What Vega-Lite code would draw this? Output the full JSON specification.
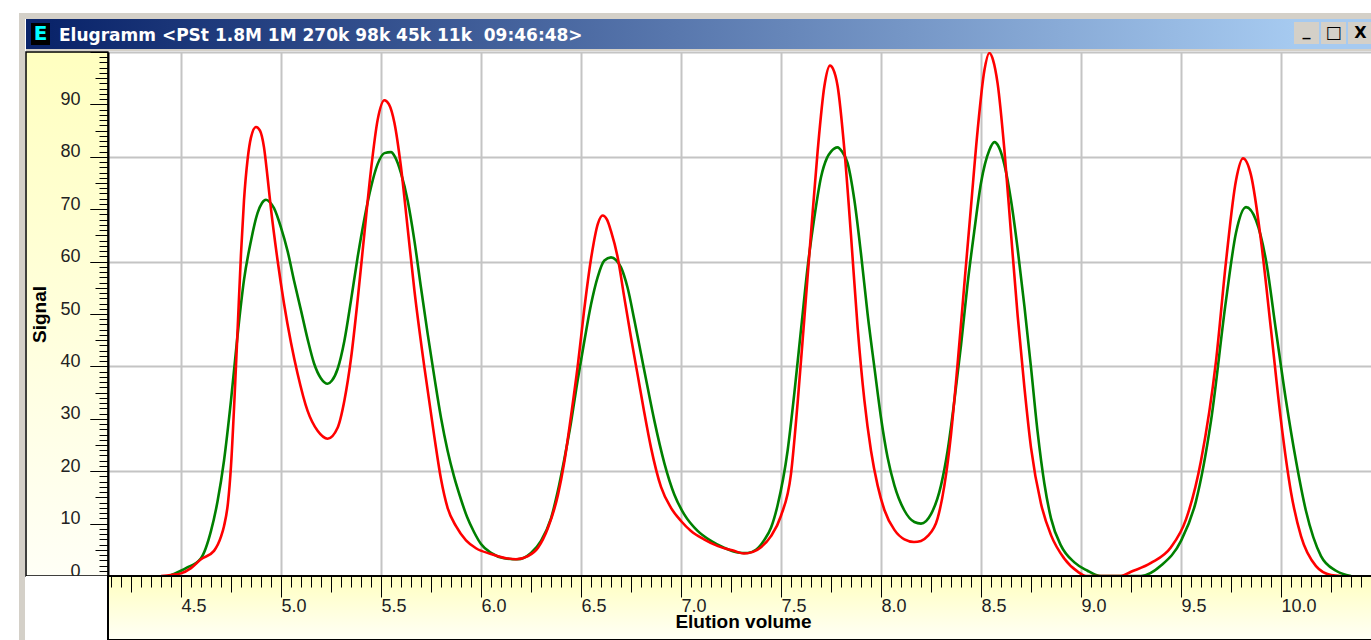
{
  "$schema": "https://vega.github.io/schema/vega-lite/v6.json",
  "background": "#ffffff",
  "padding": {"left": 19, "top": 13, "right": 0, "bottom": 0},
  "autosize": {"type": "pad"},
  "config": {
    "view": {"stroke": null},
    "concat": {"spacing": 0},
    "axis": {"labelFont": "Liberation Sans", "titleFont": "Liberation Sans"}
  },
  "datasets": {
    "curves": [
      {"series":"Detektor B","v":4.44,"s":0},{"series":"Detektor B","v":4.465,"s":0.4},{"series":"Detektor B","v":4.525,"s":1.5},{"series":"Detektor B","v":4.6,"s":3.4},{"series":"Detektor B","v":4.65,"s":8.6},{"series":"Detektor B","v":4.683,"s":14.3},{"series":"Detektor B","v":4.715,"s":22},{"series":"Detektor B","v":4.75,"s":33.5},{"series":"Detektor B","v":4.783,"s":46},{"series":"Detektor B","v":4.815,"s":56.5},{"series":"Detektor B","v":4.85,"s":64},{"series":"Detektor B","v":4.883,"s":69.3},{"series":"Detektor B","v":4.905,"s":71.2},{"series":"Detektor B","v":4.925,"s":71.8},{"series":"Detektor B","v":4.945,"s":71.3},{"series":"Detektor B","v":4.965,"s":70.2},{"series":"Detektor B","v":5.0,"s":66.5},{"series":"Detektor B","v":5.033,"s":62},{"series":"Detektor B","v":5.065,"s":56.4},{"series":"Detektor B","v":5.1,"s":50.7},{"series":"Detektor B","v":5.133,"s":45.2},{"series":"Detektor B","v":5.165,"s":40.6},{"series":"Detektor B","v":5.2,"s":37.7},{"series":"Detektor B","v":5.233,"s":36.7},{"series":"Detektor B","v":5.255,"s":37.3},{"series":"Detektor B","v":5.283,"s":39.5},{"series":"Detektor B","v":5.317,"s":44.9},{"series":"Detektor B","v":5.35,"s":52.6},{"series":"Detektor B","v":5.383,"s":60.8},{"series":"Detektor B","v":5.417,"s":68.2},{"series":"Detektor B","v":5.45,"s":74.2},{"series":"Detektor B","v":5.483,"s":78.6},{"series":"Detektor B","v":5.517,"s":80.7},{"series":"Detektor B","v":5.55,"s":80.9},{"series":"Detektor B","v":5.57,"s":80},{"series":"Detektor B","v":5.6,"s":76.9},{"series":"Detektor B","v":5.633,"s":71.7},{"series":"Detektor B","v":5.667,"s":64},{"series":"Detektor B","v":5.7,"s":55},{"series":"Detektor B","v":5.733,"s":46.3},{"series":"Detektor B","v":5.767,"s":37.9},{"series":"Detektor B","v":5.8,"s":30.2},{"series":"Detektor B","v":5.833,"s":23.9},{"series":"Detektor B","v":5.865,"s":19},{"series":"Detektor B","v":5.9,"s":14.6},{"series":"Detektor B","v":5.93,"s":11.3},{"series":"Detektor B","v":5.965,"s":8.4},{"series":"Detektor B","v":6.0,"s":6.1},{"series":"Detektor B","v":6.05,"s":4.4},{"series":"Detektor B","v":6.115,"s":3.4},{"series":"Detektor B","v":6.183,"s":3.2},{"series":"Detektor B","v":6.25,"s":4.4},{"series":"Detektor B","v":6.3,"s":6.7},{"series":"Detektor B","v":6.35,"s":11},{"series":"Detektor B","v":6.383,"s":16},{"series":"Detektor B","v":6.415,"s":22},{"series":"Detektor B","v":6.45,"s":29.3},{"series":"Detektor B","v":6.483,"s":37.3},{"series":"Detektor B","v":6.517,"s":44.9},{"series":"Detektor B","v":6.55,"s":51.8},{"series":"Detektor B","v":6.583,"s":57},{"series":"Detektor B","v":6.617,"s":60.2},{"series":"Detektor B","v":6.65,"s":60.8},{"series":"Detektor B","v":6.675,"s":60.3},{"series":"Detektor B","v":6.7,"s":58.9},{"series":"Detektor B","v":6.733,"s":55},{"series":"Detektor B","v":6.767,"s":48.8},{"series":"Detektor B","v":6.8,"s":42.4},{"series":"Detektor B","v":6.833,"s":36},{"series":"Detektor B","v":6.867,"s":29.6},{"series":"Detektor B","v":6.917,"s":21.5},{"series":"Detektor B","v":6.967,"s":15.5},{"series":"Detektor B","v":7.017,"s":11.7},{"series":"Detektor B","v":7.083,"s":8.6},{"series":"Detektor B","v":7.15,"s":6.7},{"series":"Detektor B","v":7.215,"s":5.4},{"series":"Detektor B","v":7.283,"s":4.5},{"series":"Detektor B","v":7.333,"s":4.4},{"series":"Detektor B","v":7.375,"s":5},{"series":"Detektor B","v":7.415,"s":6.8},{"series":"Detektor B","v":7.45,"s":9.2},{"series":"Detektor B","v":7.483,"s":13.5},{"series":"Detektor B","v":7.533,"s":23.9},{"series":"Detektor B","v":7.567,"s":35},{"series":"Detektor B","v":7.6,"s":47},{"series":"Detektor B","v":7.633,"s":58.9},{"series":"Detektor B","v":7.667,"s":68.5},{"series":"Detektor B","v":7.7,"s":76.1},{"series":"Detektor B","v":7.73,"s":79.8},{"series":"Detektor B","v":7.75,"s":81},{"series":"Detektor B","v":7.783,"s":81.8},{"series":"Detektor B","v":7.805,"s":81},{"series":"Detektor B","v":7.833,"s":78.8},{"series":"Detektor B","v":7.867,"s":71.7},{"series":"Detektor B","v":7.9,"s":61.5},{"series":"Detektor B","v":7.933,"s":50},{"series":"Detektor B","v":7.967,"s":39.8},{"series":"Detektor B","v":8.0,"s":30.2},{"series":"Detektor B","v":8.033,"s":22.6},{"series":"Detektor B","v":8.067,"s":17.3},{"series":"Detektor B","v":8.117,"s":12.5},{"series":"Detektor B","v":8.167,"s":10.3},{"series":"Detektor B","v":8.2,"s":10},{"series":"Detektor B","v":8.25,"s":11.8},{"series":"Detektor B","v":8.3,"s":17.3},{"series":"Detektor B","v":8.333,"s":23.9},{"series":"Detektor B","v":8.367,"s":33.5},{"series":"Detektor B","v":8.4,"s":44},{"series":"Detektor B","v":8.433,"s":55.8},{"series":"Detektor B","v":8.467,"s":66},{"series":"Detektor B","v":8.5,"s":75},{"series":"Detektor B","v":8.542,"s":81.3},{"series":"Detektor B","v":8.567,"s":82.8},{"series":"Detektor B","v":8.59,"s":81.8},{"series":"Detektor B","v":8.617,"s":78.5},{"series":"Detektor B","v":8.65,"s":71.7},{"series":"Detektor B","v":8.683,"s":62.5},{"series":"Detektor B","v":8.717,"s":51.5},{"series":"Detektor B","v":8.75,"s":39.8},{"series":"Detektor B","v":8.783,"s":27.5},{"series":"Detektor B","v":8.817,"s":17.6},{"series":"Detektor B","v":8.85,"s":11},{"series":"Detektor B","v":8.9,"s":5.8},{"series":"Detektor B","v":8.967,"s":2.6},{"series":"Detektor B","v":9.033,"s":1},{"series":"Detektor B","v":9.075,"s":0.2},{"series":"Detektor B","v":9.1,"s":0},{"series":"Detektor B","v":9.3,"s":0},{"series":"Detektor B","v":9.4,"s":2},{"series":"Detektor B","v":9.5,"s":6.7},{"series":"Detektor B","v":9.575,"s":14.3},{"series":"Detektor B","v":9.65,"s":29.6},{"series":"Detektor B","v":9.725,"s":52.6},{"series":"Detektor B","v":9.775,"s":65.5},{"series":"Detektor B","v":9.825,"s":70.4},{"series":"Detektor B","v":9.875,"s":67.9},{"series":"Detektor B","v":9.925,"s":60.2},{"series":"Detektor B","v":9.975,"s":46.8},{"series":"Detektor B","v":10.025,"s":33.5},{"series":"Detektor B","v":10.075,"s":22},{"series":"Detektor B","v":10.125,"s":12.4},{"series":"Detektor B","v":10.2,"s":3.8},{"series":"Detektor B","v":10.275,"s":1},{"series":"Detektor B","v":10.35,"s":0},
      {"series":"Detektor A","v":4.4,"s":0},{"series":"Detektor A","v":4.45,"s":0.2},{"series":"Detektor A","v":4.5,"s":0.5},{"series":"Detektor A","v":4.55,"s":1.5},{"series":"Detektor A","v":4.6,"s":3.2},{"series":"Detektor A","v":4.665,"s":4.8},{"series":"Detektor A","v":4.7,"s":7.5},{"series":"Detektor A","v":4.715,"s":9.5},{"series":"Detektor A","v":4.735,"s":14},{"series":"Detektor A","v":4.75,"s":21},{"series":"Detektor A","v":4.767,"s":33.5},{"series":"Detektor A","v":4.783,"s":47},{"series":"Detektor A","v":4.8,"s":61.5},{"series":"Detektor A","v":4.815,"s":71.7},{"series":"Detektor A","v":4.833,"s":79.5},{"series":"Detektor A","v":4.85,"s":83.7},{"series":"Detektor A","v":4.875,"s":85.7},{"series":"Detektor A","v":4.895,"s":85},{"series":"Detektor A","v":4.915,"s":81.8},{"series":"Detektor A","v":4.933,"s":76},{"series":"Detektor A","v":4.95,"s":70},{"series":"Detektor A","v":4.983,"s":60.2},{"series":"Detektor A","v":5.015,"s":52},{"series":"Detektor A","v":5.05,"s":44.5},{"series":"Detektor A","v":5.083,"s":38.6},{"series":"Detektor A","v":5.133,"s":31.5},{"series":"Detektor A","v":5.183,"s":27.7},{"series":"Detektor A","v":5.233,"s":26.2},{"series":"Detektor A","v":5.283,"s":28.3},{"series":"Detektor A","v":5.317,"s":33.5},{"series":"Detektor A","v":5.35,"s":41.5},{"series":"Detektor A","v":5.383,"s":52.6},{"series":"Detektor A","v":5.417,"s":65.4},{"series":"Detektor A","v":5.45,"s":77.5},{"series":"Detektor A","v":5.483,"s":87},{"series":"Detektor A","v":5.517,"s":90.8},{"series":"Detektor A","v":5.54,"s":90},{"series":"Detektor A","v":5.567,"s":86.5},{"series":"Detektor A","v":5.6,"s":78},{"series":"Detektor A","v":5.633,"s":66.5},{"series":"Detektor A","v":5.667,"s":54.5},{"series":"Detektor A","v":5.717,"s":39.8},{"series":"Detektor A","v":5.767,"s":26.5},{"series":"Detektor A","v":5.8,"s":18.5},{"series":"Detektor A","v":5.833,"s":13},{"series":"Detektor A","v":5.875,"s":9.5},{"series":"Detektor A","v":5.925,"s":6.8},{"series":"Detektor A","v":5.975,"s":5.3},{"series":"Detektor A","v":6.05,"s":4.2},{"series":"Detektor A","v":6.125,"s":3.4},{"series":"Detektor A","v":6.175,"s":3.2},{"series":"Detektor A","v":6.235,"s":3.8},{"series":"Detektor A","v":6.285,"s":5.4},{"series":"Detektor A","v":6.335,"s":9.2},{"series":"Detektor A","v":6.385,"s":15.5},{"series":"Detektor A","v":6.415,"s":21.4},{"series":"Detektor A","v":6.45,"s":30.5},{"series":"Detektor A","v":6.485,"s":40.5},{"series":"Detektor A","v":6.515,"s":50.5},{"series":"Detektor A","v":6.55,"s":60.5},{"series":"Detektor A","v":6.585,"s":67.3},{"series":"Detektor A","v":6.608,"s":68.8},{"series":"Detektor A","v":6.63,"s":68},{"series":"Detektor A","v":6.65,"s":65.8},{"series":"Detektor A","v":6.685,"s":60.5},{"series":"Detektor A","v":6.715,"s":53.5},{"series":"Detektor A","v":6.75,"s":45.5},{"series":"Detektor A","v":6.785,"s":38},{"series":"Detektor A","v":6.815,"s":31.5},{"series":"Detektor A","v":6.85,"s":24.5},{"series":"Detektor A","v":6.9,"s":17},{"series":"Detektor A","v":6.95,"s":13},{"series":"Detektor A","v":7.0,"s":10.5},{"series":"Detektor A","v":7.05,"s":8.6},{"series":"Detektor A","v":7.115,"s":7},{"series":"Detektor A","v":7.185,"s":5.7},{"series":"Detektor A","v":7.265,"s":4.8},{"series":"Detektor A","v":7.315,"s":4.3},{"series":"Detektor A","v":7.36,"s":4.6},{"series":"Detektor A","v":7.4,"s":5.5},{"series":"Detektor A","v":7.45,"s":7.6},{"series":"Detektor A","v":7.5,"s":11.5},{"series":"Detektor A","v":7.55,"s":19.5},{"series":"Detektor A","v":7.583,"s":33},{"series":"Detektor A","v":7.617,"s":49.3},{"series":"Detektor A","v":7.65,"s":65.4},{"series":"Detektor A","v":7.683,"s":81},{"series":"Detektor A","v":7.717,"s":93.5},{"series":"Detektor A","v":7.745,"s":97.4},{"series":"Detektor A","v":7.76,"s":96.8},{"series":"Detektor A","v":7.783,"s":93.5},{"series":"Detektor A","v":7.817,"s":81.3},{"series":"Detektor A","v":7.85,"s":65},{"series":"Detektor A","v":7.883,"s":47.5},{"series":"Detektor A","v":7.917,"s":33.5},{"series":"Detektor A","v":7.95,"s":23.9},{"series":"Detektor A","v":7.983,"s":17.3},{"series":"Detektor A","v":8.017,"s":12.6},{"series":"Detektor A","v":8.067,"s":8.8},{"series":"Detektor A","v":8.117,"s":7},{"series":"Detektor A","v":8.165,"s":6.5},{"series":"Detektor A","v":8.2,"s":6.7},{"series":"Detektor A","v":8.233,"s":7.6},{"series":"Detektor A","v":8.283,"s":11},{"series":"Detektor A","v":8.317,"s":17.3},{"series":"Detektor A","v":8.35,"s":27},{"series":"Detektor A","v":8.383,"s":40.5},{"series":"Detektor A","v":8.417,"s":55.8},{"series":"Detektor A","v":8.45,"s":70.5},{"series":"Detektor A","v":8.483,"s":85},{"series":"Detektor A","v":8.517,"s":96.5},{"series":"Detektor A","v":8.542,"s":99.8},{"series":"Detektor A","v":8.56,"s":98.5},{"series":"Detektor A","v":8.583,"s":94},{"series":"Detektor A","v":8.617,"s":81.3},{"series":"Detektor A","v":8.65,"s":65.4},{"series":"Detektor A","v":8.683,"s":49.8},{"series":"Detektor A","v":8.717,"s":36},{"series":"Detektor A","v":8.75,"s":24.5},{"series":"Detektor A","v":8.8,"s":13.8},{"series":"Detektor A","v":8.85,"s":7.8},{"series":"Detektor A","v":8.915,"s":3.4},{"series":"Detektor A","v":8.985,"s":0.8},{"series":"Detektor A","v":9.025,"s":0},{"series":"Detektor A","v":9.2,"s":0},{"series":"Detektor A","v":9.25,"s":0.8},{"series":"Detektor A","v":9.35,"s":2.5},{"series":"Detektor A","v":9.45,"s":5.5},{"series":"Detektor A","v":9.525,"s":10.8},{"series":"Detektor A","v":9.6,"s":22},{"series":"Detektor A","v":9.675,"s":41},{"series":"Detektor A","v":9.725,"s":60},{"series":"Detektor A","v":9.775,"s":75.5},{"series":"Detektor A","v":9.81,"s":79.7},{"series":"Detektor A","v":9.85,"s":76.5},{"series":"Detektor A","v":9.9,"s":64},{"series":"Detektor A","v":9.95,"s":47},{"series":"Detektor A","v":10.0,"s":29.6},{"series":"Detektor A","v":10.05,"s":16},{"series":"Detektor A","v":10.1,"s":7.6},{"series":"Detektor A","v":10.175,"s":1.9},{"series":"Detektor A","v":10.25,"s":0.2},{"series":"Detektor A","v":10.3,"s":0}
    ]
  },
  "spacing": 0,
  "bounds": "full",
  "vconcat": [
    {"data": {"values": [{}]}, "width": 1358, "height": 6, "mark": {"type": "rect", "color": "#d4d0c8"}},
    {
      "spacing": 0, "bounds": "full",
      "hconcat": [
        {"data": {"values": [{}]}, "width": 6, "height": 621, "mark": {"type": "rect", "color": "#d4d0c8"}},
        {
          "spacing": 0, "bounds": "full",
          "vconcat": [
            {
              "spacing": 0, "bounds": "full",
              "hconcat": [
                {"data": {"values": [{}]}, "width": 5, "height": 30, "mark": {"type": "rect", "color": "#0a246a"}},
                {
                  "spacing": 0, "bounds": "full",
                  "vconcat": [
                    {"data": {"values": [{}]}, "width": 19, "height": 4, "mark": {"type": "rect", "color": "#0a246a"}},
                    {"data": {"values": [{}]}, "width": 19, "height": 22, "layer": [
                      {"mark": {"type": "rect", "color": "#000000"}},
                      {"mark": {"type": "text", "text": "E", "color": "#00ffff", "font": "DejaVu Sans", "fontWeight": "bold", "fontSize": 20, "align": "center", "baseline": "middle"}}
                    ]},
                    {"data": {"values": [{}]}, "width": 19, "height": 4, "mark": {"type": "rect", "color": "#0a246a"}}
                  ]
                },
                {
                  "data": {"values": [{}]}, "width": 1244, "height": 30,
                  "title": {"text": "Elugramm <PSt 1.8M 1M 270k 98k 45k 11k \u00a009:46:48>", "anchor": "start", "frame": "group", "color": "#ffffff", "font": "DejaVu Sans", "fontSize": 17, "fontWeight": "bold", "offset": -26, "dx": 9},
                  "mark": {"type": "rect", "fill": {"gradient": "linear", "x1": 0, "y1": 0, "x2": 1, "y2": 0, "stops": [{"offset": 0, "color": "#0a246a"}, {"offset": 1, "color": "#a6caf0"}]}}
                },
                {
                  "spacing": 0, "bounds": "full",
                  "vconcat": [
                    {"data": {"values": [{}]}, "width": 25, "height": 3, "mark": {"type": "rect", "color": "#a6caf0"}},
                    {"data": {"values": [{}]}, "width": 25, "height": 22, "layer": [
                      {"mark": {"type": "rect", "fill": "#d4d0c8"}},
                      {"mark": {"type": "text", "text": "_", "color": "#000000", "font": "DejaVu Sans", "fontWeight": "bold", "fontSize": 16, "align": "center", "baseline": "middle", "dy": -2}}
                    ]},
                    {"data": {"values": [{}]}, "width": 25, "height": 5, "mark": {"type": "rect", "color": "#a6caf0"}}
                  ]
                },
                {"data": {"values": [{}]}, "width": 2, "height": 30, "mark": {"type": "rect", "color": "#a6caf0"}},
                {
                  "spacing": 0, "bounds": "full",
                  "vconcat": [
                    {"data": {"values": [{}]}, "width": 25, "height": 3, "mark": {"type": "rect", "color": "#a6caf0"}},
                    {"data": {"values": [{}]}, "width": 25, "height": 22, "layer": [
                      {"mark": {"type": "rect", "fill": "#d4d0c8"}},
                      {"mark": {"type": "text", "text": "□", "color": "#000000", "font": "DejaVu Sans", "fontWeight": "bold", "fontSize": 17, "align": "center", "baseline": "middle"}}
                    ]},
                    {"data": {"values": [{}]}, "width": 25, "height": 5, "mark": {"type": "rect", "color": "#a6caf0"}}
                  ]
                },
                {"data": {"values": [{}]}, "width": 2, "height": 30, "mark": {"type": "rect", "color": "#a6caf0"}},
                {
                  "spacing": 0, "bounds": "full",
                  "vconcat": [
                    {"data": {"values": [{}]}, "width": 25, "height": 3, "mark": {"type": "rect", "color": "#a6caf0"}},
                    {"data": {"values": [{}]}, "width": 25, "height": 22, "layer": [
                      {"mark": {"type": "rect", "fill": "#d4d0c8"}},
                      {"mark": {"type": "text", "text": "X", "color": "#000000", "font": "DejaVu Sans", "fontWeight": "bold", "fontSize": 16, "align": "center", "baseline": "middle"}}
                    ]},
                    {"data": {"values": [{}]}, "width": 25, "height": 5, "mark": {"type": "rect", "color": "#a6caf0"}}
                  ]
                },
                {"data": {"values": [{}]}, "width": 5, "height": 30, "mark": {"type": "rect", "color": "#a6caf0"}}
              ]
            },
            {"data": {"values": [{}]}, "width": 1352, "height": 2, "mark": {"type": "rect", "color": "#d4d0c8"}},
            {
              "spacing": 0, "bounds": "flush", "columns": 2,
              "concat": [
                {
                  "data": {"values": [{}]}, "width": 82, "height": 524,
                  "mark": {"type": "rect", "stroke": "#000000", "strokeWidth": 1.5, "fill": {"gradient": "linear", "x1": 0, "y1": 0, "x2": 0, "y2": 1, "stops": [{"offset": 0, "color": "#ffffc0"}, {"offset": 1, "color": "#fffff6"}]}},
                  "encoding": {
                    "y": {"datum": 0, "type": "quantitative",
                      "scale": {"domain": [0, 100], "nice": false, "zero": false},
                      "axis": {
                        "orient": "left", "offset": -82, "zindex": 1,
                        "values": [0, 10, 20, 30, 40, 50, 60, 70, 80, 90],
                        "domain": false, "grid": false,
                        "tickColor": "#000000", "tickWidth": 1, "tickSize": 18,
                        "labelBaseline": "alphabetic", "labelAlign": "right", "labelPadding": 10,
                        "labelOverlap": false, "labelBound": false, "labelFlush": false,
                        "labelFontSize": 18, "labelColor": "#222222",
                        "title": "Signal", "titleFontWeight": "bold", "titleFontSize": 19, "titleColor": "#000000", "titlePadding": 10
                      }},
                    "y2": {"datum": 100}
                  }
                },
                {
                  "width": 1270, "height": 524,
                  "data": {"name": "curves"},
                  "mark": {"type": "line", "strokeWidth": 2.6, "interpolate": "monotone", "clip": true},
                  "encoding": {
                    "x": {"field": "v", "type": "quantitative",
                      "scale": {"domain": [4.135, 10.485], "nice": false, "zero": false},
                      "axis": {"values": [4.5, 5, 5.5, 6, 6.5, 7, 7.5, 8, 8.5, 9, 9.5, 10], "grid": true, "gridColor": "#c4c4c4", "gridWidth": 2, "ticks": false, "labels": false, "domain": false, "title": null}},
                    "y": {"field": "s", "type": "quantitative",
                      "scale": {"domain": [0, 100], "nice": false, "zero": false},
                      "axis": {
                        "tickCount": 100, "grid": true, "gridColor": "#c4c4c4", "gridWidth": 2,
                        "gridOpacity": {"condition": {"test": "datum.value % 20 === 0", "value": 1}, "value": 0},
                        "domain": true, "domainColor": "#000000", "domainWidth": 2,
                        "tickColor": "#000000", "tickWidth": 1,
                        "tickSize": {"condition": [{"test": "datum.value % 10 === 0", "value": 18}, {"test": "datum.value % 5 === 0", "value": 13}], "value": 9},
                        "labels": false, "title": null
                      }},
                    "color": {"field": "series", "type": "nominal", "scale": {"domain": ["Detektor B", "Detektor A"], "range": ["#008000", "#ff0000"]}, "legend": null}
                  }
                },
                {"data": {"values": [{}]}, "width": 82, "height": 64, "mark": {"type": "rect", "color": "#ffffff"}},
                {
                  "data": {"values": [{}]}, "width": 1270, "height": 64,
                  "mark": {"type": "rect", "stroke": "#000000", "strokeWidth": 2, "fill": {"gradient": "linear", "x1": 0, "y1": 0, "x2": 0, "y2": 1, "stops": [{"offset": 0, "color": "#ffffc0"}, {"offset": 1, "color": "#fffff6"}]}},
                  "encoding": {
                    "x": {"datum": 4.135, "type": "quantitative",
                      "scale": {"domain": [4.135, 10.485], "nice": false, "zero": false},
                      "axis": {
                        "orient": "bottom", "offset": -64, "zindex": 1,
                        "domain": false, "grid": false, "tickCount": 127,
                        "tickColor": "#000000", "tickWidth": 1,
                        "tickSize": {"condition": [{"test": "round(datum.value * 20) % 10 === 0", "value": 21}, {"test": "round(datum.value * 20) % 5 === 0", "value": 16}], "value": 11},
                        "labelExpr": "round(datum.value * 20) % 10 === 0 ? format(datum.value, '.1f') : ''",
                        "labelAlign": "left", "labelBaseline": "top", "labelPadding": 0,
                        "labelOverlap": false, "labelBound": false, "labelFlush": false,
                        "labelFontSize": 18, "labelColor": "#222222",
                        "title": "Elution volume", "titleFontWeight": "bold", "titleFontSize": 19, "titleColor": "#000000", "titlePadding": -3
                      }},
                    "x2": {"datum": 10.485}
                  }
                }
              ]
            }
          ]
        }
      ]
    }
  ]
}
